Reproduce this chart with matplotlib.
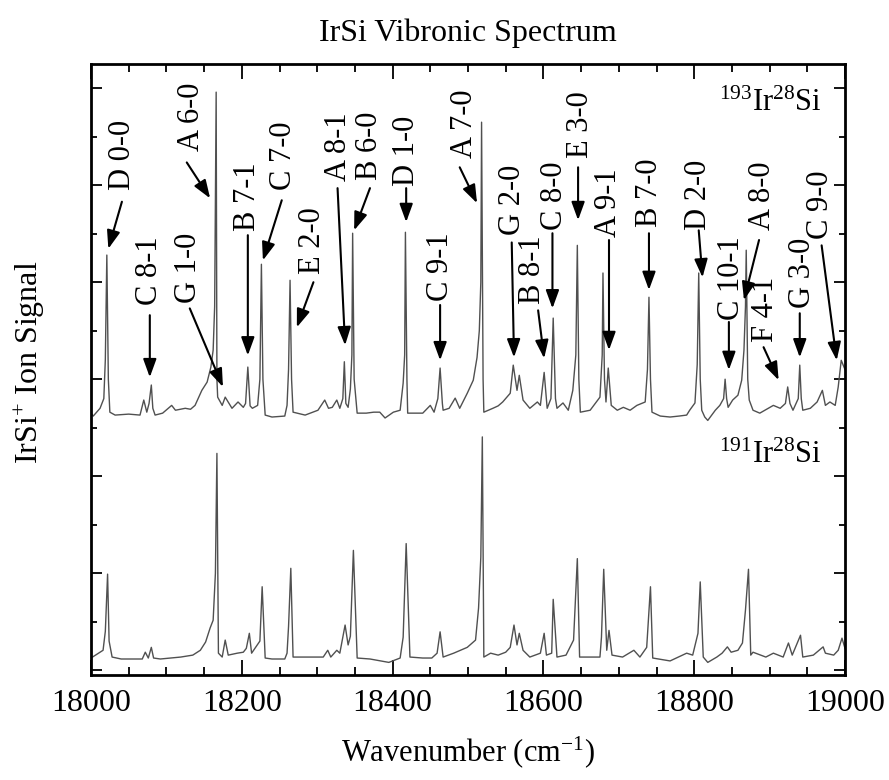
import matplotlib

matplotlib.use("Agg")
import matplotlib.pyplot as plt
from matplotlib.ticker import MultipleLocator, NullFormatter

# ---- spectra (wavenumber in cm^-1, signal in tick units)
WN_193 = [18000, 18003, 18012, 18017, 18019, 18021, 18023, 18025, 18032, 18050,
          18065, 18070, 18074, 18077, 18080, 18082, 18085, 18095, 18107, 18112,
          18125, 18132, 18138, 18147, 18154, 18159, 18162, 18164, 18166, 18167,
          18168, 18174, 18178, 18187, 18195, 18202, 18205, 18208, 18211, 18214,
          18221, 18224, 18226, 18228, 18231, 18240, 18257, 18260, 18262, 18264,
          18266, 18268, 18284, 18301, 18310, 18315, 18320, 18326, 18330, 18334,
          18336, 18338, 18341, 18344, 18346, 18347, 18349, 18353, 18365, 18375,
          18383, 18390, 18401, 18410, 18414, 18416, 18417, 18419, 18420, 18427,
          18440, 18450, 18455, 18460, 18463, 18466, 18467, 18475, 18483, 18489,
          18499, 18507, 18512, 18515, 18517, 18518, 18520, 18521, 18533, 18540,
          18546, 18556, 18560, 18565, 18568, 18573, 18582, 18592, 18596, 18601,
          18605, 18610, 18613, 18616, 18618, 18626, 18633, 18639, 18643, 18645,
          18647, 18649, 18662, 18675, 18678, 18679, 18681, 18683, 18686, 18690,
          18698, 18706, 18715, 18724, 18735, 18738, 18740, 18742, 18744, 18755,
          18768, 18780, 18790, 18794, 18801, 18804, 18806, 18808, 18810, 18814,
          18818, 18828, 18834, 18839, 18841, 18843, 18845, 18851, 18858, 18863,
          18866, 18868, 18869, 18871, 18873, 18878, 18887, 18905, 18914, 18921,
          18924, 18927, 18931, 18938, 18940, 18942, 18944, 18954, 18963, 18970,
          18974, 18980, 18987, 18991, 18995, 19000]
SIG_193 = [5.30, 5.24, 5.40, 5.60, 6.40, 8.56, 6.00, 5.32, 5.26, 5.28,
           5.26, 5.57, 5.32, 5.50, 5.88, 5.40, 5.26, 5.30, 5.46, 5.36,
           5.40, 5.38, 5.46, 5.77, 5.94, 6.25, 6.60, 7.50, 11.92, 6.00,
           5.63, 5.46, 5.63, 5.40, 5.53, 5.42, 5.50, 6.25, 5.45, 5.40,
           5.46, 6.00, 8.37, 6.00, 5.26, 5.22, 5.24, 5.46, 6.20, 8.04,
           6.00, 5.32, 5.26, 5.36, 5.57, 5.40, 5.42, 5.57, 5.40, 5.60,
           6.36, 5.50, 5.42, 5.80, 6.50, 9.01, 6.00, 5.30, 5.30, 5.32,
           5.32, 5.20, 5.32, 5.36, 5.92, 6.50, 9.03, 6.00, 5.30, 5.30,
           5.30, 5.46, 5.32, 5.60, 6.23, 5.50, 5.36, 5.40, 5.61, 5.40,
           5.71, 5.98, 6.45, 7.00, 8.00, 11.30, 6.00, 5.32, 5.40, 5.45,
           5.53, 5.71, 6.29, 5.77, 6.08, 5.57, 5.40, 5.53, 5.46, 6.14,
           5.40, 5.60, 7.26, 5.60, 5.40, 5.51, 5.36, 5.77, 6.50, 8.76,
           6.00, 5.32, 5.36, 5.63, 6.50, 8.19, 6.00, 5.53, 6.23, 5.46,
           5.36, 5.42, 5.36, 5.46, 5.53, 6.20, 7.69, 6.00, 5.32, 5.24,
           5.22, 5.24, 5.26, 5.36, 5.51, 6.30, 8.19, 6.00, 5.36, 5.22,
           5.15, 5.36, 5.46, 5.60, 6.00, 5.60, 5.42, 5.57, 5.67, 5.98,
           6.60, 7.50, 8.66, 6.00, 5.57, 5.36, 5.30, 5.46, 5.40, 5.50,
           5.84, 5.50, 5.36, 5.60, 6.29, 5.60, 5.36, 5.40, 5.53, 5.77,
           5.46, 5.53, 5.46, 5.84, 6.39, 6.20]

WN_191 = [18000, 18016, 18019, 18022, 18024, 18028, 18040, 18068, 18072, 18076,
          18080, 18083, 18092, 18119, 18135, 18145, 18152, 18158, 18162, 18165,
          18167, 18169, 18174, 18178, 18182, 18194, 18202, 18206, 18210, 18213,
          18224, 18227, 18231, 18240, 18257, 18260, 18262, 18265, 18268, 18280,
          18308, 18314, 18318, 18326, 18330, 18334, 18337, 18341, 18344, 18348,
          18353, 18370, 18395, 18410, 18414, 18418, 18423, 18440, 18452, 18459,
          18463, 18467, 18481, 18490, 18499, 18510, 18514, 18517, 18519, 18521,
          18530, 18540, 18550, 18556, 18561, 18565, 18568, 18573, 18582, 18596,
          18601, 18604, 18611, 18613, 18618, 18630, 18640, 18645, 18648, 18675,
          18677, 18680, 18684, 18687, 18691, 18705, 18720, 18728, 18737, 18742,
          18745, 18768, 18790, 18798, 18805, 18808, 18812, 18818, 18830, 18837,
          18844, 18849, 18858, 18864, 18868, 18872, 18875, 18878, 18895, 18905,
          18918, 18925, 18930, 18941, 18944, 18958, 18971, 18974, 18985, 18991,
          18996, 19000]
SIG_191 = [0.25, 0.41, 0.80, 1.98, 0.60, 0.27, 0.23, 0.23, 0.37, 0.25,
           0.47, 0.25, 0.23, 0.27, 0.31, 0.41, 0.58, 0.87, 1.03, 2.00,
           4.47, 0.35, 0.27, 0.62, 0.31, 0.35, 0.37, 0.45, 0.76, 0.35,
           0.60, 1.72, 0.25, 0.23, 0.23, 0.35, 0.90, 2.10, 0.27, 0.27,
           0.27, 0.41, 0.27, 0.41, 0.35, 0.68, 0.93, 0.52, 0.70, 2.47,
           0.25, 0.23, 0.16, 0.25, 0.68, 2.61, 0.27, 0.25, 0.25, 0.35,
           0.79, 0.27, 0.35, 0.41, 0.47, 0.62, 1.28, 2.33, 4.81, 0.27,
           0.35, 0.31, 0.37, 0.47, 0.93, 0.52, 0.76, 0.41, 0.27, 0.35,
           0.76, 0.31, 0.35, 1.46, 0.27, 0.31, 0.62, 2.30, 0.27, 0.27,
           0.68, 2.08, 0.41, 0.82, 0.31, 0.27, 0.41, 0.27, 0.47, 1.72,
           0.25, 0.19, 0.35, 0.31, 0.76, 1.82, 0.27, 0.16, 0.27, 0.35,
           0.48, 0.37, 0.41, 0.56, 1.24, 2.08, 0.31, 0.37, 0.27, 0.35,
           0.27, 0.56, 0.31, 0.72, 0.27, 0.31, 0.48, 0.35, 0.31, 0.41,
           0.66, 0.45]

# ---- band assignments: label and the point the arrow touches
BANDS = ["D 0-0", "C 8-1", "G 1-0", "A 6-0", "B 7-1", "C 7-0", "E 2-0", "A 8-1",
         "B 6-0", "D 1-0", "C 9-1", "A 7-0", "G 2-0", "B 8-1", "C 8-0", "E 3-0",
         "A 9-1", "B 7-0", "D 2-0", "C 10-1", "A 8-0", "F 4-1", "G 3-0", "C 9-0"]
BAND_WN = [18023, 18078, 18175, 18158, 18208, 18228, 18273, 18337,
           18349, 18418, 18463, 18512, 18561, 18601, 18612, 18646,
           18687, 18740, 18811, 18846, 18866, 18912, 18940, 18989]
BAND_SIG = [8.69, 6.04, 5.84, 9.73, 6.49, 8.45, 7.07, 6.70,
            9.07, 9.24, 6.39, 9.63, 6.45, 6.43, 7.46, 9.28,
            6.60, 7.84, 8.10, 6.19, 7.63, 5.98, 6.45, 6.39]

# layout of the rotated labels (text centre) and the arrow tails
TEXT_XY = [(18042, 10.62), (18078, 8.23), (18129, 8.29), (18133, 11.42),
           (18208, 9.77), (18255, 10.60), (18294, 8.85), (18328, 10.80),
           (18369, 10.82), (18419, 10.70), (18463, 8.31), (18496, 11.26),
           (18559, 9.69), (18586, 8.25), (18615, 9.79), (18649, 11.24),
           (18686, 9.65), (18741, 9.84), (18806, 9.81), (18849, 8.08),
           (18890, 9.79), (18895, 7.44), (18943, 8.19), (18967, 9.59)]
TAIL_XY = [(18041, 9.66), (18078, 7.32), (18131, 7.46), (18127, 10.47),
           (18208, 8.97), (18253, 9.69), (18295, 8.00), (18327, 9.94),
           (18370, 9.94), (18418, 9.94), (18463, 7.53), (18489, 10.37),
           (18558, 8.82), (18593, 7.42), (18612, 9.01), (18646, 10.37),
           (18687, 8.87), (18740, 9.01), (18806, 9.07), (18846, 7.18),
           (18886, 8.87), (18892, 6.66), (18940, 7.36), (18969, 8.76)]

FS = 22

plt.rcParams.update({
    "font.family": "Liberation Serif",
    "mathtext.fontset": "custom",
    "mathtext.rm": "Liberation Serif",
    "mathtext.it": "Liberation Serif:italic",
    "font.size": FS,
})

fig = plt.figure(figsize=(8.89, 7.80), dpi=100)
ax = fig.add_axes([91 / 889, 1 - 675 / 780, (845 - 91) / 889, (675 - 64) / 780])

ax.plot(WN_193, SIG_193, color="#505050", lw=1.0)
ax.plot(WN_191, SIG_191, color="#505050", lw=1.0)

for lab, wn, s, (tx, ty), (ax0, ay0) in zip(BANDS, BAND_WN, BAND_SIG, TEXT_XY, TAIL_XY):
    ax.text(tx, ty, lab, rotation=90, ha="center", va="center", fontsize=FS)
    ax.annotate("", xy=(wn, s), xytext=(ax0, ay0),
                arrowprops=dict(arrowstyle="-|>,head_length=0.55,head_width=0.2",
                                color="black", lw=1.5, shrinkA=0, shrinkB=0,
                                mutation_scale=20))

ax.text(18969, 11.69, r"$^{193}$Ir$^{28}$Si", ha="right", va="center", fontsize=FS)
ax.text(18969, 4.43, r"$^{191}$Ir$^{28}$Si", ha="right", va="center", fontsize=FS)

ax.set_xlim(18000, 19000)
ax.set_ylim(-0.1, 12.5)
ax.xaxis.set_major_locator(MultipleLocator(200))
ax.xaxis.set_minor_locator(MultipleLocator(50))
ax.yaxis.set_major_locator(MultipleLocator(2))
ax.yaxis.set_minor_locator(MultipleLocator(1))
ax.yaxis.set_major_formatter(NullFormatter())
ax.tick_params(which="both", direction="in", top=True, right=True, width=1.3)
ax.tick_params(axis="x", which="major", length=11, pad=10, labelsize=23)
ax.tick_params(axis="x", which="minor", length=6)
ax.tick_params(axis="y", which="major", length=8)
ax.tick_params(axis="y", which="minor", length=4)
for sp in ax.spines.values():
    sp.set_linewidth(2.0)

fig.text(468 / 889, 1 - 33 / 780, "IrSi Vibronic Spectrum", ha="center", va="center", fontsize=23)
fig.text(468 / 889, 1 - 752 / 780, r"Wavenumber (cm$^{\mathrm{-1}}$)", ha="center", va="center", fontsize=FS)
fig.text(30 / 889, 1 - 362 / 780, r"IrSi$^{+}$ Ion Signal", rotation=90, ha="center", va="center", fontsize=23)

fig.savefig("out.png", dpi=100)
